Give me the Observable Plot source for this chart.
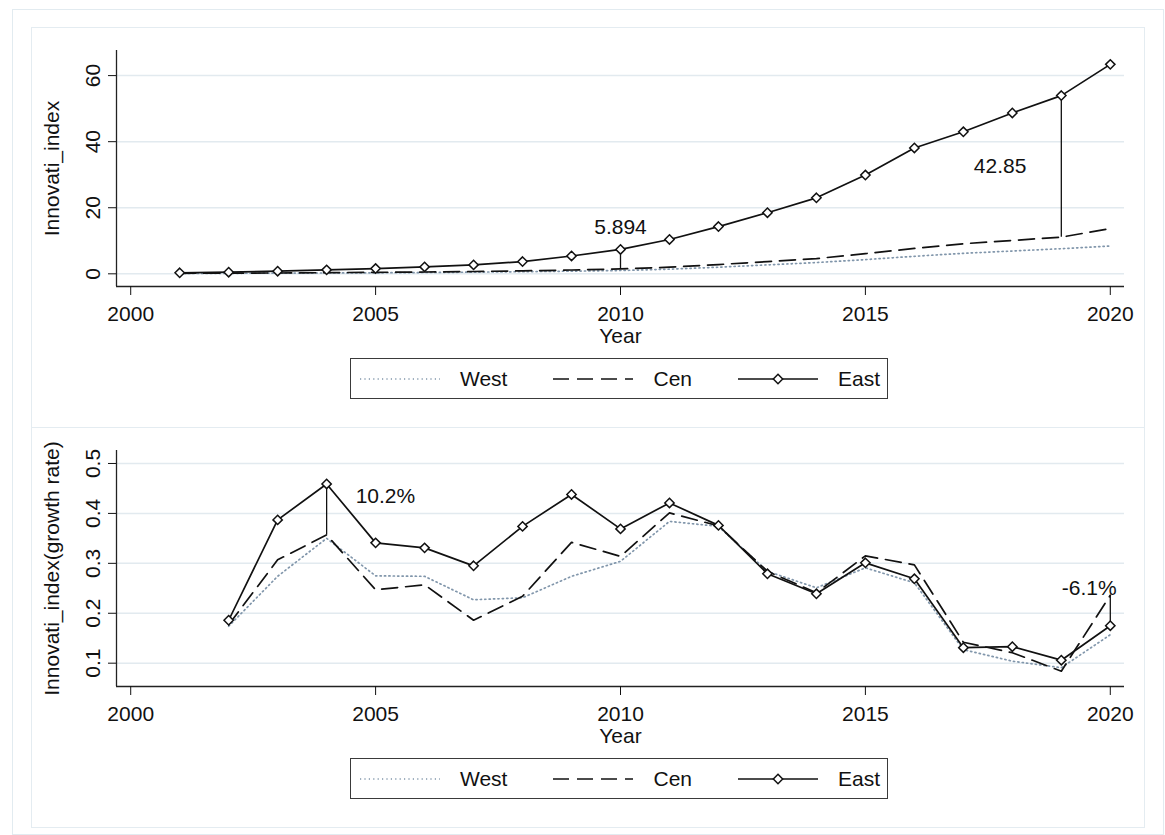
<!DOCTYPE html>
<html>
<head>
<meta charset="utf-8">
<script src="https://cdn.jsdelivr.net/npm/d3@7"></script>
<script src="https://cdn.jsdelivr.net/npm/@observablehq/plot@0.6"></script>
<style>
  body { margin: 0; background: #fff; font-family: "Liberation Sans", Arial, sans-serif; }
  #page { position: relative; width: 1165px; height: 835px; overflow: hidden; }
  .outer { position: absolute; left: 12px; top: 9px; width: 1152px; height: 826px; border: 1.5px solid #e2ebf0; box-sizing: border-box; }
  .panel { position: absolute; left: 31px; width: 1114px; border: 1.5px solid #e4ecf1; box-sizing: border-box; background: #fff; }
  .chart { position: absolute; left: 32px; }
  .legend { position: absolute; left: 350px; width: 538px; height: 41px; border: 1.5px solid #3a3a3a; box-sizing: border-box;
            display: flex; align-items: center; padding-left: 9px; font-size: 21px; color: #111; background: #fff; }
  .legend .item { display: flex; align-items: center; }
  .legend svg { display: block; }
</style>
</head>
<body>
<div id="page">
  <div class="outer"></div>
  <div class="panel" style="top:27px;height:402px"></div>
  <div class="panel" style="top:427px;height:401px"></div>
</div>
<script>
// Regions, in drawing order
const regions = ["West", "Cen", "East"];

// Innovation index by region, 2001–2020
const levelYears = [2001, 2002, 2003, 2004, 2005, 2006, 2007, 2008, 2009, 2010,
                    2011, 2012, 2013, 2014, 2015, 2016, 2017, 2018, 2019, 2020];
const levelWest = [0.1, 0.15, 0.2, 0.25, 0.3, 0.4, 0.5, 0.65, 0.8, 1.0,
                   1.4, 2.0, 2.7, 3.4, 4.3, 5.3, 6.2, 6.9, 7.6, 8.4];
const levelCen  = [0.15, 0.2, 0.25, 0.35, 0.45, 0.55, 0.7, 0.9, 1.15, 1.48,
                   2.0, 2.8, 3.7, 4.6, 6.1, 7.7, 9.1, 10.1, 11.10, 13.7];
const levelEast = [0.3, 0.5, 0.8, 1.2, 1.6, 2.1, 2.7, 3.7, 5.4, 7.374,
                   10.4, 14.3, 18.5, 23.0, 29.9, 38.1, 43.0, 48.7, 53.95, 63.4];

// Growth rate of the index, 2002–2020
const growthYears = [2002, 2003, 2004, 2005, 2006, 2007, 2008, 2009, 2010, 2011,
                     2012, 2013, 2014, 2015, 2016, 2017, 2018, 2019, 2020];
const growthWest = [0.174, 0.274, 0.350, 0.275, 0.274, 0.227, 0.231, 0.274, 0.304, 0.384,
                    0.374, 0.284, 0.251, 0.291, 0.261, 0.127, 0.104, 0.091, 0.157];
const growthCen  = [0.177, 0.307, 0.357, 0.247, 0.257, 0.186, 0.234, 0.342, 0.314, 0.401,
                    0.375, 0.284, 0.241, 0.315, 0.297, 0.142, 0.121, 0.084, 0.236];
const growthEast = [0.186, 0.387, 0.459, 0.341, 0.331, 0.295, 0.374, 0.438, 0.369, 0.421,
                    0.376, 0.279, 0.239, 0.301, 0.269, 0.131, 0.133, 0.106, 0.175];

// Axis ticks
const yearTicks = [2000, 2005, 2010, 2015, 2020];
const levelTicks = [0, 20, 40, 60];
const growthTicks = [0.1, 0.2, 0.3, 0.4, 0.5];

// Years where the East–Cen gap is marked
const levelGapYears = [2010, 2019];
const growthGapYears = [2004, 2020];

const ink = "#111";
const lineStyle = {
  West: { stroke: "#8196ab", strokeWidth: 1.7, strokeDasharray: "1.2 3.2" },
  Cen:  { stroke: ink, strokeWidth: 1.7, strokeDasharray: "16 8" },
  East: { stroke: ink, strokeWidth: 1.7 }
};

function panel({ years, series, yDomain, yTicks, yTitle, gapYears, gapFormat, notePos, top }) {
  const rows = regions.flatMap(name =>
    series[name].map((v, i) => ({ region: name, year: years[i], value: v })));
  const valueAt = (name, yr) => series[name][years.indexOf(yr)];
  const gaps = gapYears.map((yr, i) => {
    const e = valueAt("East", yr), c = valueAt("Cen", yr);
    return { year: yr, east: e, cen: c, label: gapFormat(e - c), lx: notePos[i][0], ly: notePos[i][1] };
  });
  const xDomain = [1999.71, 2020.29];

  const chart = Plot.plot({
    width: 1112,
    height: 330,
    marginLeft: 84,
    marginRight: 20,
    marginTop: 22,
    marginBottom: 72,
    style: { fontFamily: "'Liberation Sans', Arial, sans-serif", fontSize: "21px", color: ink, background: "transparent" },
    x: { domain: xDomain },
    y: { domain: yDomain },
    marks: [
      Plot.ruleY(yTicks, { stroke: "#e2eaef", strokeWidth: 1.5 }),
      Plot.ruleX([xDomain[0]], { stroke: "#222", strokeWidth: 1.3 }),
      Plot.ruleY([yDomain[0]], { stroke: "#222", strokeWidth: 1.3 }),
      Plot.axisY({ ticks: yTicks, tickSize: 8, tickPadding: 9, tickRotate: -90, tickFormat: d => String(d), fontSize: 21, label: null }),
      Plot.axisX({ ticks: yearTicks, tickSize: 9, tickPadding: 10.5, tickFormat: d => String(d), fontSize: 21, label: null }),
      Plot.text(["Year"], { frameAnchor: "bottom", dy: 56, fontSize: 21, fill: ink }),
      Plot.text([yTitle], { frameAnchor: "left", textAnchor: "middle", dx: -64, rotate: -90, fontSize: 21, fill: ink }),
      ...regions.map(name =>
        Plot.line(rows.filter(d => d.region === name), { x: "year", y: "value", ...lineStyle[name] })),
      Plot.ruleX(gaps, { x: "year", y1: "cen", y2: "east", stroke: ink, strokeWidth: 1.3 }),
      Plot.dot(rows.filter(d => d.region === "East"), {
        x: "year", y: "value", symbol: "diamond2", r: 4.2, fill: "white", stroke: ink, strokeWidth: 1.5
      }),
      Plot.text(gaps, { x: "lx", y: "ly", text: "label", fontSize: 21, fill: ink })
    ]
  });
  chart.classList.add("chart");
  chart.style.top = top + "px";
  document.getElementById("page").appendChild(chart);
  legend(top + 330);
}

function legend(top) {
  const box = d3.select("#page").append("div").attr("class", "legend").style("top", top + "px");
  regions.forEach((name, i) => {
    const s = lineStyle[name];
    const item = box.append("div").attr("class", "item").style("margin-left", i ? "46px" : "0px");
    const svg = item.append("svg").attr("width", 80).attr("height", 20);
    svg.append("line")
      .attr("x1", 0).attr("x2", 80).attr("y1", 10).attr("y2", 10)
      .attr("stroke", s.stroke).attr("stroke-width", s.strokeWidth)
      .attr("stroke-dasharray", s.strokeDasharray || null);
    if (name === "East") {
      svg.append("path")
        .attr("d", d3.symbol(d3.symbolDiamond2, Math.PI * 4.2 * 4.2)())
        .attr("transform", "translate(40,10)")
        .attr("fill", "white").attr("stroke", ink).attr("stroke-width", 1.5);
    }
    item.append("span").style("margin-left", "20px").text(name);
  });
}

panel({
  years: levelYears,
  series: { West: levelWest, Cen: levelCen, East: levelEast },
  yDomain: [-3.84, 67.6],
  yTicks: levelTicks,
  yTitle: "Innovati_index",
  gapYears: levelGapYears,
  gapFormat: d3.format(".4~g"),
  notePos: [[2010, 14.1], [2017.75, 32.6]],
  top: 28
});

panel({
  years: growthYears,
  series: { West: growthWest, Cen: growthCen, East: growthEast },
  yDomain: [0.0533, 0.526],
  yTicks: growthTicks,
  yTitle: "Innovati_index(growth rate)",
  gapYears: growthGapYears,
  gapFormat: d => (d * 100).toFixed(1) + "%",
  notePos: [[2005.2, 0.434], [2019.57, 0.251]],
  top: 428
});
</script>
</body>
</html>
